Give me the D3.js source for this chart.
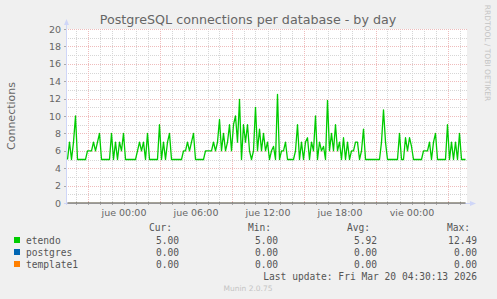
<!DOCTYPE html>
<html>
<head>
<meta charset="utf-8">
<script src="https://cdn.jsdelivr.net/npm/d3@7"></script>
<style>
  body { margin: 0; background: #f0f0f0; }
  svg text { font-family: "DejaVu Sans", sans-serif; }
</style>
</head>
<body>
<script>
// series (one sample every 10 minutes, starting Wed 19:20)
var databases = ["etendo", "postgres", "template1"];
var colors = ["#00cc00", "#0066b3", "#ff8000"];
var etendo = [
  5, 7, 5, 7, 10, 5, 5, 5, 5, 5, 6, 6, 6, 7, 6, 7, 8, 5, 5, 5,
  5, 5, 8, 5, 7, 5, 7, 6, 8, 5, 5, 5, 5, 5, 5, 6, 7, 6, 7, 5,
  8, 5, 5, 5, 5, 5, 9, 5, 7, 5, 7, 8, 5, 5, 5, 5, 5, 5, 6, 6,
  7, 6, 7, 8, 5, 5, 5, 5, 5, 6, 6, 6, 6, 7, 6, 7, 9.6, 6, 8, 6,
  7, 9, 6, 9, 10, 7, 11.9, 5, 9, 7, 9, 6, 5, 6, 11, 6, 8.5, 6, 8, 6,
  7, 5, 6, 6.5, 5, 12.49, 5, 6, 6, 7, 5, 5, 5, 5, 6, 9, 5, 7, 5, 7,
  7.5, 5, 7, 6, 10, 5, 7, 6, 6.5, 5, 11.8, 6, 8, 6, 9, 6, 7, 5, 7.5, 5,
  7, 5, 6, 6, 7, 7, 5, 6, 8.5, 5, 5, 5, 5, 5, 5, 5, 5, 7, 10.7, 7,
  5, 5, 5, 5, 5, 5, 8, 5, 5, 7.5, 6, 7.5, 6.5, 5, 5, 5, 5, 5, 6, 6,
  6, 7, 5, 7, 8, 5, 5, 5, 5, 5, 9, 5, 7, 5, 7, 5, 8, 5, 5, 5
];
// flat series, sampled at first and last point
var postgres = [0, 0];
var template1 = [0, 0];

var curValues = ["5.00", "0.00", "0.00"];
var minValues = ["5.00", "0.00", "0.00"];
var avgValues = ["5.92", "0.00", "0.00"];
var maxValues = ["12.49", "0.00", "0.00"];

var dayNames = ["dom", "lun", "mar", "mié", "jue", "vie", "sáb"];

var width = 497, height = 299;
var plotLeft = 66, plotRight = 467, plotTop = 29, plotBottom = 203;

var start = new Date(2026, 2, 18, 19, 20);
var stepMs = 10 * 60 * 1000;
var times = etendo.map(function(d, i) { return new Date(+start + i * stepMs); });
var lastTime = times[times.length - 1];

var x = d3.scaleTime()
  .domain([new Date(2026, 2, 18, 19, 12, 30), new Date(2026, 2, 20, 4, 37, 30)])
  .range([plotLeft, plotRight]);
var y = d3.scaleLinear().domain([0, 20]).range([plotBottom, plotTop]);

var svg = d3.select("body").append("svg")
  .attr("width", width)
  .attr("height", height);

svg.append("rect").attr("width", width).attr("height", height).attr("fill", "#f0f0f0");
svg.append("rect")
  .attr("x", plotLeft).attr("y", plotTop)
  .attr("width", plotRight - plotLeft).attr("height", plotBottom - plotTop)
  .attr("fill", "#fff");

// grid
var hours = d3.timeHour.range(x.domain()[0], x.domain()[1]);
var minorY = d3.range(1, 21, 2);
var majorY = y.ticks(10);
var minorColor = "#d6d6d6", majorColor = "#efbcbc";

svg.selectAll(".hgrid-minor").data(minorY).enter().append("line")
  .attr("x1", plotLeft).attr("x2", plotRight)
  .attr("y1", function(d) { return Math.round(y(d)) + 0.5; })
  .attr("y2", function(d) { return Math.round(y(d)) + 0.5; })
  .attr("stroke", minorColor).attr("stroke-dasharray", "1,1");

svg.selectAll(".vgrid").data(hours).enter().append("line")
  .attr("x1", function(d) { return Math.round(x(d)) + 0.5; })
  .attr("x2", function(d) { return Math.round(x(d)) + 0.5; })
  .attr("y1", plotTop).attr("y2", plotBottom)
  .attr("stroke", function(d) { return d.getHours() % 6 == 3 ? majorColor : minorColor; })
  .attr("stroke-dasharray", "1,1");

svg.selectAll(".hgrid-major").data(majorY).enter().append("line")
  .attr("x1", plotLeft).attr("x2", plotRight)
  .attr("y1", function(d) { return Math.round(y(d)) + 0.5; })
  .attr("y2", function(d) { return Math.round(y(d)) + 0.5; })
  .attr("stroke", majorColor).attr("stroke-dasharray", "1,1");

// axis ticks
svg.selectAll(".ytick").data(majorY).enter().append("line")
  .attr("x1", plotLeft - 2).attr("x2", plotLeft + 1)
  .attr("y1", function(d) { return Math.round(y(d)) + 0.5; })
  .attr("y2", function(d) { return Math.round(y(d)) + 0.5; })
  .attr("stroke", "#aaa");
svg.selectAll(".xtick").data(hours).enter().append("line")
  .attr("x1", function(d) { return Math.round(x(d)) + 0.5; })
  .attr("x2", function(d) { return Math.round(x(d)) + 0.5; })
  .attr("y1", plotBottom - 1).attr("y2", plotBottom + 2)
  .attr("stroke", "#aaa");

// axes with arrows
svg.append("line")
  .attr("x1", plotLeft + 0.5).attr("x2", plotLeft + 0.5)
  .attr("y1", plotBottom + 2).attr("y2", plotTop - 5)
  .attr("stroke", "#cfd6f8");
svg.append("path")
  .attr("d", "M" + (plotLeft - 2) + "," + (plotTop - 4) + "L" + (plotLeft + 3) + "," + (plotTop - 4) + "L" + (plotLeft + 0.5) + "," + (plotTop - 10) + "Z")
  .attr("fill", "#cfd6f8");
svg.append("line")
  .attr("x1", plotLeft - 2).attr("x2", plotRight + 4)
  .attr("y1", plotBottom + 0.5).attr("y2", plotBottom + 0.5)
  .attr("stroke", "#cfd6f8");
svg.append("path")
  .attr("d", "M" + (plotRight + 3) + "," + (plotBottom - 2) + "L" + (plotRight + 3) + "," + (plotBottom + 3) + "L" + (plotRight + 9) + "," + (plotBottom + 0.5) + "Z")
  .attr("fill", "#cfd6f8");

// series lines
var line = d3.line()
  .x(function(d) { return x(d[0]); })
  .y(function(d) { return y(d[1]); });

svg.append("path")
  .datum([[times[0], postgres[0]], [lastTime, postgres[1]]])
  .attr("d", line).attr("fill", "none")
  .attr("stroke", colors[1]).attr("stroke-width", 1.2);
svg.append("path")
  .datum([[times[0], template1[0]], [lastTime, template1[1]]])
  .attr("d", line).attr("fill", "none")
  .attr("stroke", colors[2]).attr("stroke-width", 1.2).attr("stroke-opacity", 0.6);
svg.append("path")
  .datum(etendo.map(function(v, i) { return [times[i], v]; }))
  .attr("d", line).attr("fill", "none")
  .attr("stroke", colors[0]).attr("stroke-width", 1.3)
  .attr("stroke-linejoin", "round");

// labels
svg.selectAll(".ylabel").data(majorY).enter().append("text")
  .attr("x", plotLeft - 5)
  .attr("y", function(d) { return y(d) + 3.5; })
  .attr("text-anchor", "end")
  .attr("font-size", "9.5px").attr("fill", "#666")
  .text(function(d) { return d; });

var labelHours = hours.filter(function(d) { return d.getHours() % 6 == 0; });
svg.selectAll(".xlabel").data(labelHours).enter().append("text")
  .attr("x", function(d) { return x(d) + 0.5; })
  .attr("y", 216)
  .attr("text-anchor", "middle")
  .attr("font-size", "9.5px").attr("fill", "#666")
  .text(function(d) { return dayNames[d.getDay()] + " " + d3.timeFormat("%H:%M")(d); });

svg.append("text")
  .attr("x", 248).attr("y", 24)
  .attr("text-anchor", "middle")
  .attr("font-size", "12.7px").attr("fill", "#666")
  .text("PostgreSQL connections per database - by day");

svg.append("text")
  .attr("transform", "translate(15," + ((plotTop + plotBottom) / 2) + ") rotate(-90)")
  .attr("text-anchor", "middle")
  .attr("font-size", "11px").attr("fill", "#666")
  .text("Connections");

svg.append("text")
  .attr("transform", "translate(485,53) rotate(90)")
  .attr("text-anchor", "middle")
  .attr("font-size", "7.5px").attr("fill", "#c4c4c4")
  .text("RRDTOOL / TOBI OETIKER");

// legend
var mono = "'DejaVu Sans Mono', monospace";
var headers = [["Cur:", 149], ["Min:", 248], ["Avg:", 347], ["Max:", 447]];
svg.selectAll(".hdr").data(headers).enter().append("text")
  .attr("x", function(d) { return d[1]; }).attr("y", 231)
  .style("font-family", mono).attr("font-size", "9.6px").attr("fill", "#555")
  .text(function(d) { return d[0]; });

var rows = svg.selectAll(".row").data(databases).enter().append("g")
  .attr("transform", function(d, i) { return "translate(0," + (243.5 + i * 12) + ")"; });
rows.append("rect")
  .attr("x", 14).attr("y", -6.5).attr("width", 6).attr("height", 6)
  .attr("fill", function(d, i) { return colors[i]; });
rows.append("text")
  .attr("x", 26)
  .style("font-family", mono).attr("font-size", "9.6px").attr("fill", "#555")
  .text(function(d) { return d; });
[[curValues, 179], [minValues, 278], [avgValues, 377], [maxValues, 477]].forEach(function(col) {
  rows.append("text")
    .attr("x", col[1]).attr("text-anchor", "end")
    .style("font-family", mono).attr("font-size", "9.6px").attr("fill", "#555")
    .text(function(d, i) { return col[0][i]; });
});

svg.append("text")
  .attr("x", 477).attr("y", 280).attr("text-anchor", "end")
  .style("font-family", mono).attr("font-size", "9.6px").attr("fill", "#555")
  .text("Last update: Fri Mar 20 04:30:13 2026");

svg.append("text")
  .attr("x", 248).attr("y", 291).attr("text-anchor", "middle")
  .attr("font-size", "7.5px").attr("fill", "#c4c4c4")
  .text("Munin 2.0.75");
</script>
</body>
</html>
